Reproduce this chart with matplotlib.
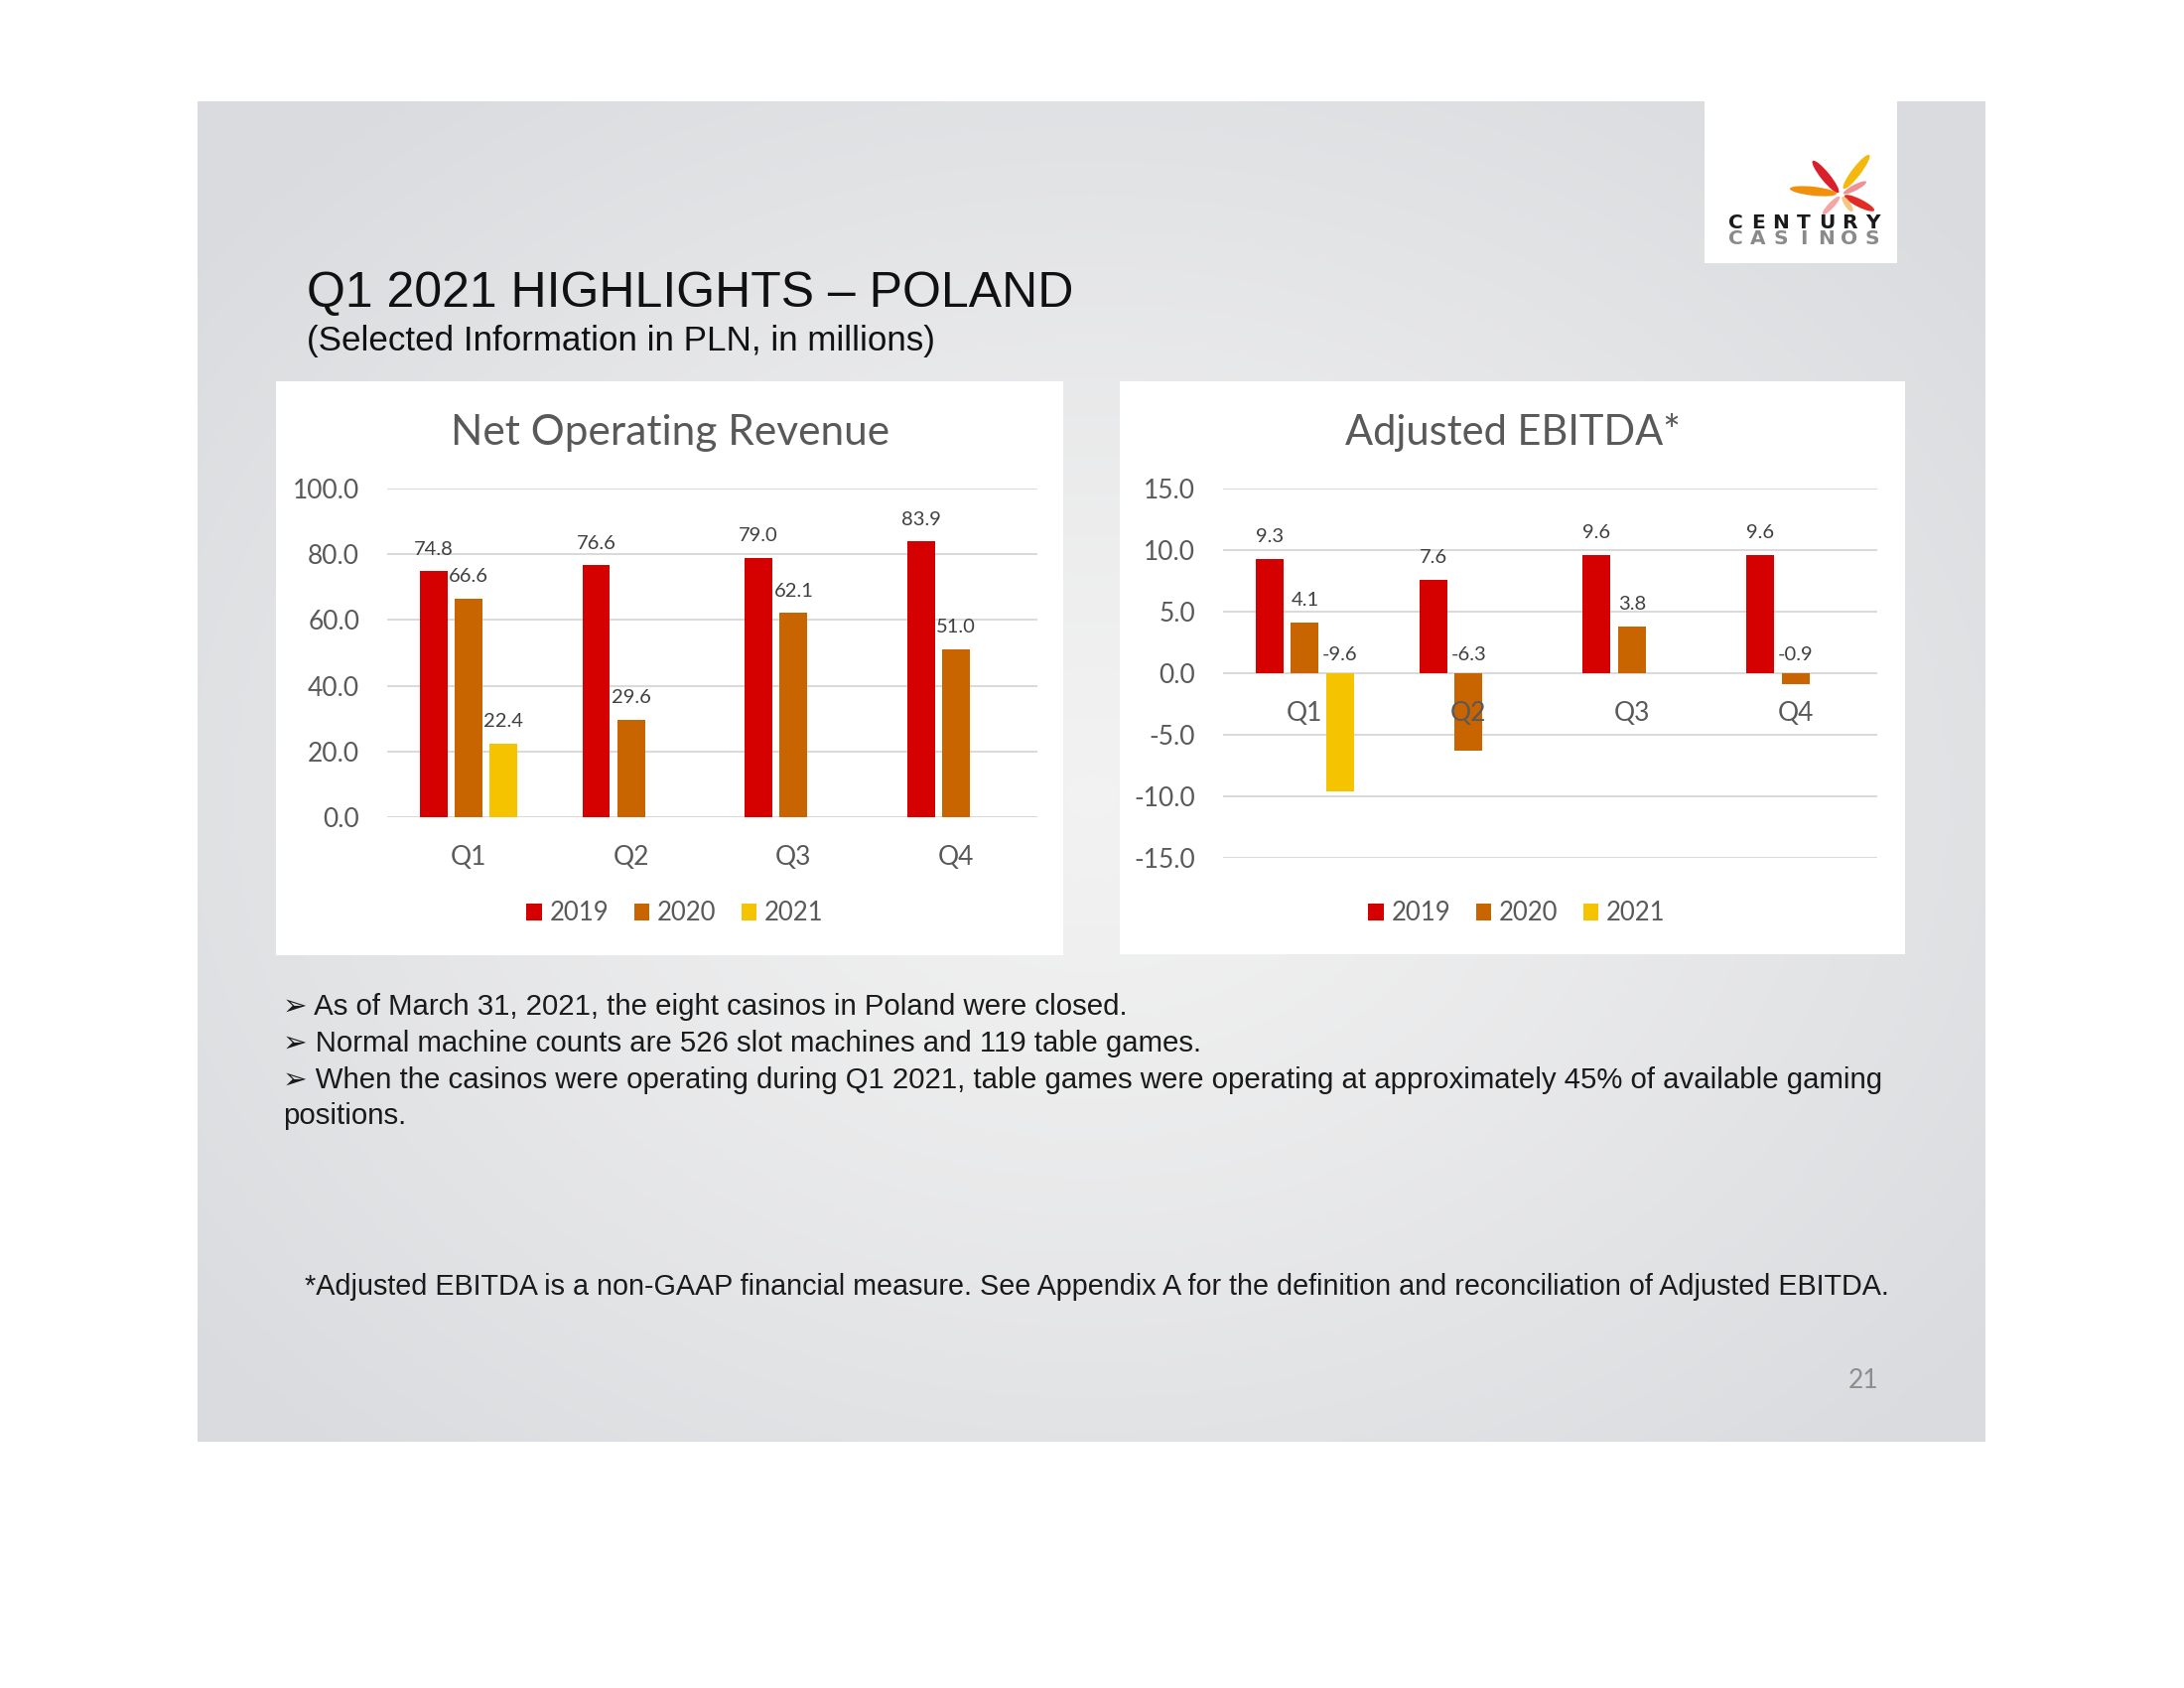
import numpy as np
import matplotlib
matplotlib.use("Agg")
import matplotlib.pyplot as plt
from matplotlib.patches import Rectangle, Ellipse

# Data
quarters = ["Q1", "Q2", "Q3", "Q4"]
years = ["2019", "2020", "2021"]
revenue_2019 = [74.8, 76.6, 79.0, 83.9]
revenue_2020 = [66.6, 29.6, 62.1, 51.0]
revenue_2021 = [22.4, None, None, None]
ebitda_2019 = [9.3, 7.6, 9.6, 9.6]
ebitda_2020 = [4.1, -6.3, 3.8, -0.9]
ebitda_2021 = [-9.6, None, None, None]
revenue_ticks = [0, 20, 40, 60, 80, 100]
ebitda_ticks = [-15, -10, -5, 0, 5, 10, 15]

colors = ["#d50000", "#c96500", "#f5c300"]
bullets = [
    "As of March 31, 2021, the eight casinos in Poland were closed.",
    "Normal machine counts are 526 slot machines and 119 table games.",
    "When the casinos were operating during Q1 2021, table games were operating at approximately 45% of available gaming",
]

plt.rcParams["font.family"] = "Lato"
plt.rcParams["axes.unicode_minus"] = False

W, H = 2200, 1700
fig = plt.figure(figsize=(22, 17), dpi=100)


def fx(x):
    return x / W


def fy(y):
    return 1 - y / H


# slide background with soft radial gradient
bg = fig.add_axes([fx(199), fy(1452), 1801 / W, 1350 / H])
bg.set_zorder(-1)
yy, xx = np.mgrid[0:1350, 0:1801]
r = np.clip(np.sqrt(((xx - 900) / 1150) ** 2 + ((yy - 700) / 900) ** 2), 0, 1)
inner = np.array([0.95, 0.95, 0.95])
outer = np.array([0.855, 0.86, 0.872])
img = inner * (1 - r[..., None] ** 1.2) + outer * r[..., None] ** 1.2
bg.imshow(img, aspect="auto", interpolation="bilinear")
bg.set_axis_off()

# white panels
for (x0, y0, x1, y1) in [(278, 384, 1071, 962), (1128, 384, 1919, 961), (1717, 102, 1911, 265)]:
    fig.patches.append(Rectangle((fx(x0), fy(y1)), (x1 - x0) / W, (y1 - y0) / H,
                                 transform=fig.transFigure, facecolor="white",
                                 edgecolor="none", zorder=0.5))

# logo
lg = fig.add_axes([fx(1717), fy(265), 194 / W, 163 / H])
lg.set_zorder(2)
lg.set_xlim(1717, 1911)
lg.set_ylim(H - 265, H - 102)
lg.set_axis_off()
petals = [
    ((1826, 162), (1852, 194), 9, "#d7141e"),
    ((1883, 156), (1857, 190), 9, "#f5b400"),
    ((1803, 190), (1850, 195), 9, "#f08a00"),
    ((1880, 183), (1857, 195), 6, "#f08c8c"),
    ((1888, 212), (1858, 197), 8, "#e0201a"),
    ((1836, 216), (1853, 198), 6, "#f4a0a0"),
    ((1866, 213), (1856, 198), 6, "#f6c27a"),
]
for p1, p2, w, c in petals:
    x1, y1 = p1[0], H - p1[1]
    x2, y2 = p2[0], H - p2[1]
    ang = np.degrees(np.arctan2(y2 - y1, x2 - x1))
    L = np.hypot(x2 - x1, y2 - y1)
    lg.add_patch(Ellipse(((x1 + x2) / 2, (y1 + y2) / 2), L, w, angle=ang,
                         facecolor=c, edgecolor="none", alpha=0.95))
# wide logo lettering, one glyph per slot
for word, yl, col, fw in [("CENTURY", 224, "#1a1a1a", "bold"), ("CASINOS", 241, "#8a8a8a", "bold")]:
    for i, ch in enumerate(word):
        lg.text(1748 + i * 23, H - yl, ch, ha="center", va="center", fontsize=14.5,
                fontweight=fw, family="DejaVu Sans", color=col)

# headings
fig.text(fx(309), fy(309), "Q1 2021 HIGHLIGHTS \u2013 POLAND", fontsize=36,
         family="Liberation Sans", color="#111111", va="baseline")
fig.text(fx(309), fy(353), "(Selected Information in PLN, in millions)", fontsize=25.2,
         family="Liberation Sans", color="#111111", va="baseline")


def bar_chart(pos, series, ticks, neg_cats):
    ax = fig.add_axes(pos)
    ax.set_zorder(2)
    x = np.arange(len(quarters))
    for k, (vals, c, yr) in enumerate(zip(series, colors, years)):
        xs = x + (k - 1) * 0.215
        v = np.array([np.nan if a is None else a for a in vals], dtype=float)
        ax.bar(xs, v, width=0.17, color=c, label=yr, zorder=3)
        for xi, vi in zip(xs, v):
            if np.isnan(vi):
                continue
            if vi >= 0:
                ax.annotate(f"{vi:.1f}", (xi, vi), xytext=(0, 16), textcoords="offset points",
                            ha="center", va="center", fontsize=14.5, color="#404040", zorder=5)
            else:
                ax.annotate(f"{vi:.1f}", (xi, 0), xytext=(0, 13), textcoords="offset points",
                            ha="center", va="center", fontsize=14.5, color="#404040", zorder=5)
    ax.set_xlim(-0.5, len(quarters) - 0.5)
    ax.set_ylim(ticks[0], ticks[-1])
    ax.set_yticks(ticks, [f"{t:.1f}" for t in ticks])
    ax.grid(axis="y", color="#d9d9d9", linewidth=1.4, zorder=0)
    ax.set_axisbelow(True)
    for s in ax.spines.values():
        s.set_visible(False)
    ax.set_facecolor("none")
    ax.tick_params(axis="y", length=0, pad=20, labelsize=19, labelcolor="#595959")
    if neg_cats:
        ax.set_xticks([])
        for i, q in enumerate(quarters):
            ax.annotate(q, (i, 0), xytext=(0, -29), textcoords="offset points",
                        ha="center", va="center", fontsize=19, color="#595959", zorder=6)
    else:
        ax.set_xticks(x, quarters)
        ax.tick_params(axis="x", length=0, pad=20, labelsize=19, labelcolor="#595959")
    return ax


ax1 = bar_chart([fx(390), fy(823), 655 / W, 331 / H],
                [revenue_2019, revenue_2020, revenue_2021], revenue_ticks, False)
ax2 = bar_chart([fx(1232), fy(864), 659 / W, 372 / H],
                [ebitda_2019, ebitda_2020, ebitda_2021], ebitda_ticks, True)

fig.text(fx(675), fy(448), "Net Operating Revenue", ha="center", va="baseline",
         fontsize=30.5, color="#595959")
fig.text(fx(1524), fy(448), "Adjusted EBITDA*", ha="center", va="baseline",
         fontsize=30, color="#595959")

for ax, cx in [(ax1, 680), (ax2, 1528)]:
    h, l = ax.get_legend_handles_labels()
    fig.legend(h, l, loc="center", bbox_to_anchor=(fx(cx), fy(920)), ncol=3,
               frameon=False, handlelength=0.6, handleheight=0.6, handletextpad=0.3,
               columnspacing=1.0, fontsize=18.5, labelcolor="#595959")

# bullets and notes
for yb, t in zip([1022, 1059, 1096], bullets):
    fig.text(fx(285), fy(yb), "\u27a2 " + t, fontsize=21.2, va="baseline",
             family=["Liberation Sans", "DejaVu Sans"], color="#1a1a1a")
fig.text(fx(285), fy(1132), "positions.", fontsize=21.2, va="baseline",
         family="Liberation Sans", color="#1a1a1a")
fig.text(fx(307), fy(1304),
         "*Adjusted EBITDA is a non-GAAP financial measure. See Appendix A for the definition "
         "and reconciliation of Adjusted EBITDA.",
         fontsize=20.7, va="baseline", family="Liberation Sans", color="#1a1a1a")
fig.text(fx(1877), fy(1390), "21", ha="center", va="center", fontsize=19, color="#8c8c8c")

fig.savefig("out.png", dpi=100, facecolor="white")
